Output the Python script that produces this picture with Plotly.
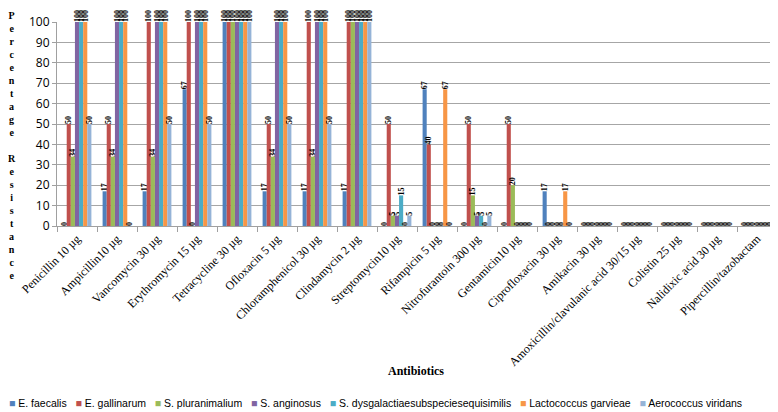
import plotly.graph_objects as go

antibiotics = ["Penicillin 10 µg", "Ampicillin10 µg", "Vancomycin 30 µg", "Erythromycin 15 µg",
               "Tetracycline 30 µg", "Ofloxacin 5 µg", "Chloramphenicol 30 µg", "Clindamycin 2 µg",
               "Streptomycin10 µg", "Rifampicin 5 µg", "Nitrofurantoin 300 µg", "Gentamicin10 µg",
               "Ciprofloxacin 30 µg", "Amikacin 30 µg", "Amoxicillin/clavulanic acid 30/15 µg",
               "Colistin 25 µg", "Nalidixic acid 30 µg", "Pipercillin/tazobactam"]

series_names = ["E. faecalis", "E. gallinarum", "S. pluranimalium", "S. anginosus",
                "S. dysgalactiaesubspeciesequisimilis", "Lactococcus garvieae", "Aerococcus viridans"]

e_faecalis      = [0, 17, 17, 67, 100, 17, 17, 17, 0, 67, 0, 0, 17, 0, 0, 0, 0, 0]
e_gallinarum    = [50, 50, 100, 100, 100, 50, 100, 100, 50, 40, 50, 50, 0, 0, 0, 0, 0, 0]
s_pluranimalium = [34, 34, 34, 0, 100, 34, 34, 100, 5, 0, 15, 20, 0, 0, 0, 0, 0, 0]
s_anginosus     = [100, 100, 100, 100, 100, 100, 100, 100, 5, 0, 5, 0, 0, 0, 0, 0, 0, 0]
s_dysgalactiae  = [100, 100, 100, 100, 100, 100, 100, 100, 15, 0, 5, 0, 0, 0, 0, 0, 0, 0]
l_garvieae      = [100, 100, 100, 100, 100, 100, 100, 100, 0, 67, 0, 0, 17, 0, 0, 0, 0, 0]
a_viridans      = [50, 0, 50, 50, 100, 50, 50, 100, 5, 0, 5, 0, 0, 0, 0, 0, 0, 0]

values = [e_faecalis, e_gallinarum, s_pluranimalium, s_anginosus, s_dysgalactiae, l_garvieae, a_viridans]
colors = ["#4F81BD", "#C0504D", "#9BBB59", "#8064A2", "#4BACC6", "#F79646", "#95B3D7"]

fig = go.Figure()
for name, vals, col in zip(series_names, values, colors):
    fig.add_trace(go.Bar(
        x=antibiotics, y=vals, name=name,
        marker=dict(color=col, line=dict(width=0)),
        text=[str(v) for v in vals], texttemplate="<b>%{text}</b>",
        textposition="outside", textangle=-90, constraintext="none",
        textfont=dict(family="Liberation Serif", size=8, color="black"),
        cliponaxis=False, showlegend=False,
    ))

ylabel = "<br>".join(list("Percentage")) + "<br><br>" + "<br>".join(list("Resistance"))

legend_parts = []
for name, col in zip(series_names, colors):
    legend_parts.append('<span style="color:%s">■</span> %s' % (col, name))
legend_text = "&nbsp;&nbsp;&nbsp;".join(legend_parts)

# page body has an 8px default margin, so the figure is sized to fit the 778x412 window
fig.update_layout(
    width=770, height=404,
    margin=dict(l=49, r=1, t=14, b=186, autoexpand=False),
    paper_bgcolor="white", plot_bgcolor="white",
    barmode="group", bargap=0.28, bargroupgap=0,
    showlegend=False,
    xaxis=dict(tickangle=-45, tickfont=dict(family="Liberation Serif", size=12, color="black"),
               showline=True, linecolor="#A0A0A0", ticks="outside", ticklen=5, tickcolor="#A0A0A0",
               tickson="boundaries", automargin=False),
    yaxis=dict(range=[0, 100], dtick=10, tickfont=dict(family="Open Sans", size=12, color="black"),
               showline=True, linecolor="#A0A0A0", gridcolor="#A6A6A6", gridwidth=1,
               ticks="outside", ticklen=4, tickcolor="#A0A0A0", zeroline=False, automargin=False,
               ticklabeloverflow="allow"),
    annotations=[
        dict(text="<b>" + ylabel + "</b>", x=0, xref="paper", xanchor="center",
             xshift=-45, y=1.068, yref="paper", yanchor="top", showarrow=False, align="center",
             font=dict(family="Liberation Serif", size=10, color="black")),
        dict(text="<b>Antibiotics</b>", x=0.499, xref="paper", xanchor="center",
             y=-0.71, yref="paper", yanchor="middle", showarrow=False,
             font=dict(family="Liberation Serif", size=12, color="black")),
        dict(text=legend_text, x=0.443, xref="paper", xanchor="center",
             y=-0.87, yref="paper", yanchor="middle", showarrow=False,
             font=dict(family="Liberation Sans", size=10.5, color="black")),
    ],
)

fig.write_html("out.html")
